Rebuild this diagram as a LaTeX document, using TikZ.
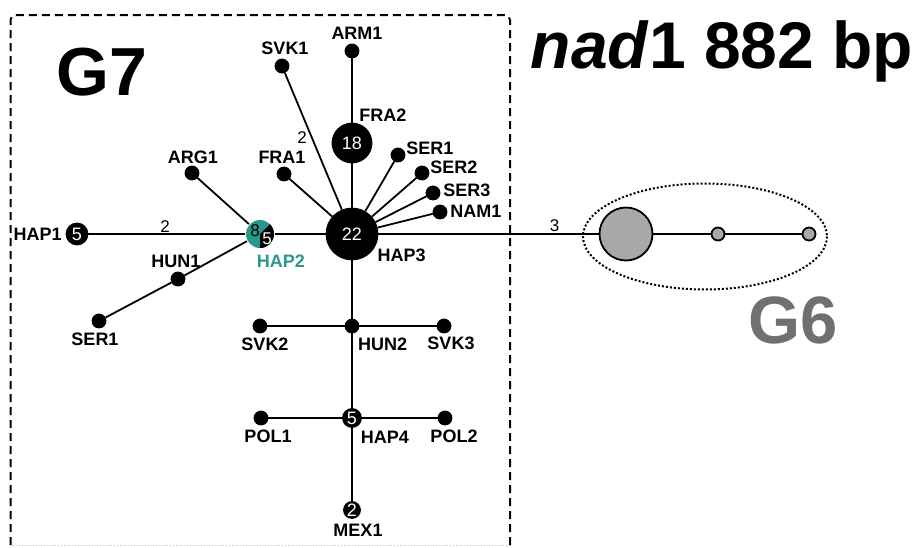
\documentclass[tikz,border=0pt]{standalone}
\usepackage{fontspec}
\setmainfont{Liberation Sans}
\usetikzlibrary{positioning}
\definecolor{hapteal}{RGB}{38,152,140}
\definecolor{grpgray}{RGB}{112,112,112}
\definecolor{g6fill}{RGB}{168,168,168}

\begin{document}
\begin{tikzpicture}[x=1pt, y=-1pt, line width=1.8pt,
    dot/.style = {draw, circle, fill, inner sep=0pt, minimum size=13pt},
    hap/.style = {draw, circle, fill, inner sep=0pt, text=white, font=\fontsize{18}{18}\selectfont},
    lab/.style = {inner sep=0pt, font=\bfseries\fontsize{18}{18}\selectfont},
    mut/.style = {inner sep=1pt, font=\fontsize{17}{17}\selectfont},
    grey/.style = {draw, circle, fill=g6fill, inner sep=0pt}]
        \useasboundingbox (0,0) rectangle (922,547);

        %Rahmen G7
        \draw[line width=2pt, dash pattern=on 8pt off 5pt, rounded corners=5pt] (10.5,545) -- (10.5,15) -- (510,15) -- (510,545);
        \draw[line width=0.8pt, black!25, dotted] (10.5,545) -- (510,545);

        %Titel
        \node[anchor=base, inner sep=0pt, font=\bfseries\fontsize{66}{66}\selectfont] (title) at (722,68) {\textit{nad}1 882 bp};
        \node[anchor=base, inner sep=0pt, font=\bfseries\fontsize{68}{68}\selectfont] (g7) at (102,95) {G7};
        \node[anchor=base, inner sep=0pt, text=grpgray, font=\bfseries\fontsize{67}{67}\selectfont] (g6) at (793,343) {G6};

        %Knoten
        \node[hap, minimum size=51pt] (hap3) at (352,234) {22};
        \node[hap, minimum size=39pt] (fra2) at (352,143) {18};
        \node[dot] (arm1) at (352,51) {};
        \node[dot] (svk1) at (282,66) {};
        \node[dot] (fra1) at (284,174) {};
        \node[dot] (ser1a) at (398,155) {};
        \node[dot] (ser2) at (422,173) {};
        \node[dot] (ser3) at (433,193) {};
        \node[dot] (nam1) at (440,212) {};

        \node[circle, fill=hapteal, inner sep=0pt, minimum size=28pt] (hap2) at (260,234) {};
        \fill (hap2.center) -- ++(-90:14pt) arc[start angle=-90, end angle=45, radius=14pt] -- cycle;
        \node[inner sep=0pt, font=\fontsize{17}{17}\selectfont] (hap2a) at ([shift={(-5pt,3pt)}]hap2.center) {8};
        \node[inner sep=0pt, text=white, font=\fontsize{17}{17}\selectfont] (hap2b) at ([shift={(7pt,-5pt)}]hap2.center) {5};

        \node[dot] (arg1) at (192,173) {};
        \node[hap, minimum size=21pt] (hap1) at (77,234) {5};
        \node[dot] (hun1) at (178,279) {};
        \node[dot] (ser1b) at (99,321) {};

        \node[dot] (hun2) at (352,326) {};
        \node[dot] (svk2) at (260,326) {};
        \node[dot] (svk3) at (444,326) {};
        \node[hap, minimum size=18pt] (hap4) at (352,418) {5};
        \node[dot] (pol1) at (261,418) {};
        \node[dot] (pol2) at (445,418) {};
        \node[hap, minimum size=15pt] (mex1) at (352,510) {2};

        \node[grey, minimum size=53pt] (g6a) at (626,234) {};
        \node[grey, minimum size=13pt] (g6b) at (718,234) {};
        \node[grey, minimum size=13pt] (g6c) at (809,234) {};
        \draw[dotted, line width=2pt] (705,236.5) ellipse [x radius=122, y radius=53];

        %Beschriftung
        \node[lab] (svk1l) [above=3pt of svk1, xshift=3pt] {SVK1};
        \node[lab] (arm1l) [above=3pt of arm1, xshift=5pt] {ARM1};
        \node[lab] (fra2l) [above right=6pt and -8pt of fra2] {FRA2};
        \node[lab] (fra1l) [above=2pt of fra1, xshift=-2pt] {FRA1};
        \node[lab] (arg1l) [above=1pt of arg1, xshift=1pt] {ARG1};
        \node[lab] (ser1al) [right=0pt of ser1a, yshift=7pt] {SER1};
        \node[lab] (ser2l) [right=0pt of ser2, yshift=6pt] {SER2};
        \node[lab] (ser3l) [right=2pt of ser3, yshift=3pt] {SER3};
        \node[lab] (nam1l) [right=2pt of nam1, yshift=1pt] {NAM1};
        \node[lab] (hap3l) [below right=-5pt and 6pt of hap3] {HAP3};
        \node[lab, text=hapteal] (hap2l) [below=5pt of hap2, xshift=21pt] {HAP2};
        \node[lab] (hap1l) [left=3pt of hap1] {HAP1};
        \node[lab] (hun1l) [above=3pt of hun1, xshift=-2pt] {HUN1};
        \node[lab] (ser1bl) [below=4pt of ser1b, xshift=-4pt] {SER1};
        \node[lab] (hun2l) [below right=6pt and 0pt of hun2] {HUN2};
        \node[lab] (svk2l) [below=4pt of svk2, xshift=5pt] {SVK2};
        \node[lab] (svk3l) [below=3pt of svk3, xshift=7pt] {SVK3};
        \node[lab] (hap4l) [below right=5pt and 1pt of hap4] {HAP4};
        \node[lab] (pol1l) [below=4pt of pol1, xshift=7pt] {POL1};
        \node[lab] (pol2l) [below=4pt of pol2, xshift=9pt] {POL2};
        \node[lab] (mex1l) [below=4pt of mex1, xshift=6pt] {MEX1};

        %Kanten
        \draw (hap1) -- (hap2) node[mut, pos=0.49, above] {2};
        \draw (hap2) -- (hap3);
        \draw (hap2) -- (arg1);
        \draw (hap2) -- (hun1) -- (ser1b);

        \draw (hap3) -- (fra1);
        \draw (svk1) -- (hap3) node[mut, pos=0.47, left=3pt] {2};
        \draw (hap3) -- (fra2) -- (arm1);
        \draw (hap3) -- (ser1a);
        \draw (hap3) -- (ser2);
        \draw (hap3) -- (ser3);
        \draw (hap3) -- (nam1);

        \draw (hap3) -- (hun2) -- (hap4) -- (mex1);
        \draw (svk2) -- (hun2) -- (svk3);
        \draw (pol1) -- (hap4) -- (pol2);

        \draw (hap3) -- (g6a) node[mut, pos=0.8, above] {3} -- (g6b) -- (g6c);

    \end{tikzpicture}
\end{document}
